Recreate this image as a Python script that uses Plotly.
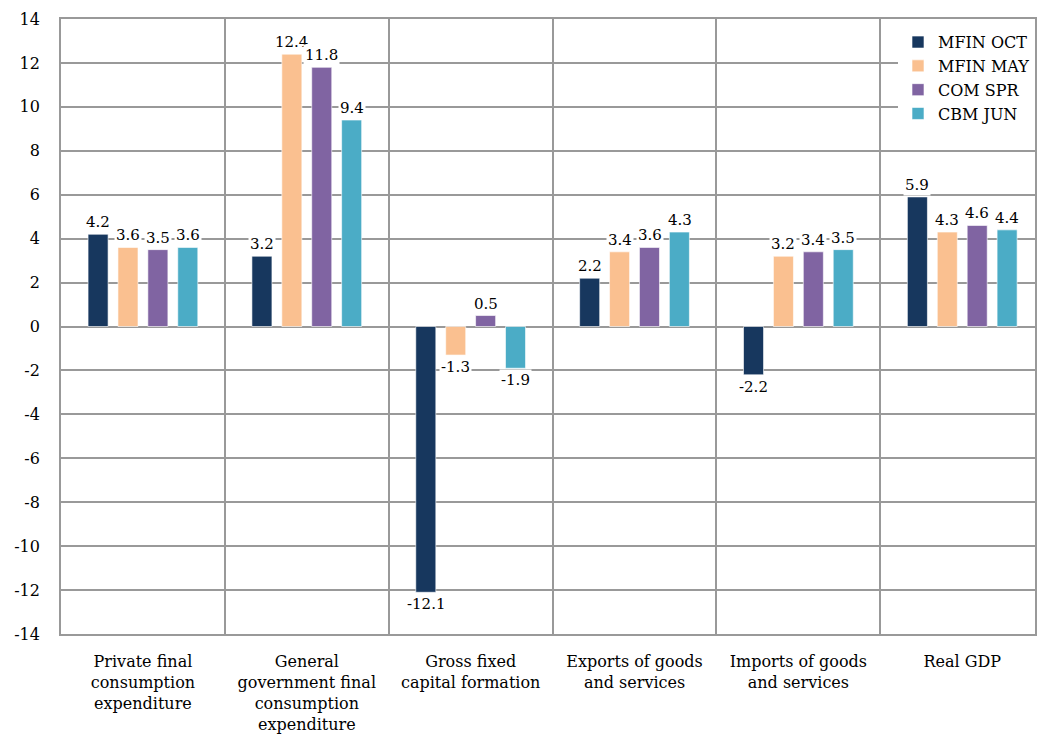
import plotly.graph_objects as go

categories = [
    "Private final<br>consumption<br>expenditure",
    "General<br>government final<br>consumption<br>expenditure",
    "Gross fixed<br>capital formation",
    "Exports of goods<br>and services",
    "Imports of goods<br>and services",
    "Real GDP",
]
series_names = ["MFIN OCT", "MFIN MAY", "COM SPR", "CBM JUN"]
mfin_oct = [4.2, 3.2, -12.1, 2.2, -2.2, 5.9]
mfin_may = [3.6, 12.4, -1.3, 3.4, 3.2, 4.3]
com_spr = [3.5, 11.8, 0.5, 3.6, 3.4, 4.6]
cbm_jun = [3.6, 9.4, -1.9, 4.3, 3.5, 4.4]
colors = ["#17375E", "#FAC090", "#8064A2", "#4BACC6"]
y_ticks = list(range(-14, 15, 2))

all_series = [mfin_oct, mfin_may, com_spr, cbm_jun]
FONT = "DejaVu Serif"

fig = go.Figure()
for name, vals, col in zip(series_names, all_series, colors):
    fig.add_trace(go.Bar(
        x=categories, y=vals, name=name,
        marker=dict(color=col, line=dict(color="rgba(255,255,255,0.6)", width=1)),
    ))

offsets = [-45, -15, 15, 45]
for off, vals in zip(offsets, all_series):
    for cat, v in zip(categories, vals):
        fig.add_annotation(
            x=cat, y=v, xref="x", yref="y", text=f"{v:.1f}", showarrow=False,
            xshift=off, yshift=(1 if v >= 0 else -1),
            yanchor=("bottom" if v >= 0 else "top"),
            bgcolor="white", borderpad=1,
            font=dict(family=FONT, size=15, color="black"),
        )

fig.update_layout(
    width=1037, height=751,
    margin=dict(l=61, r=0, t=19, b=117),
    paper_bgcolor="white", plot_bgcolor="white",
    barmode="group", bargap=0.27, bargroupgap=0.33,
    font=dict(family=FONT, size=16, color="black"),
    legend=dict(
        x=1, xanchor="right", y=0.99, yanchor="top",
        bgcolor="white", borderwidth=0,
        font=dict(family=FONT, size=16, color="black"),
        itemwidth=30, tracegroupgap=10,
    ),
    showlegend=True,
)
fig.update_xaxes(
    type="category", range=[-0.5, 5.444],
    tickson="boundaries", showgrid=True, gridcolor="#999999", gridwidth=1.8,
    showline=True, linecolor="#999999", linewidth=1.8, mirror=True,
    ticks="", tickfont=dict(family=FONT, size=16),
    ticklabelstandoff=12,
)
fig.update_yaxes(
    range=[-14, 14], tickvals=y_ticks, ticktext=[str(t) for t in y_ticks],
    showgrid=True, gridcolor="#999999", gridwidth=1.8,
    zeroline=True, zerolinecolor="#999999", zerolinewidth=1.8,
    showline=True, linecolor="#999999", linewidth=1.8, mirror=True,
    ticks="", tickfont=dict(family=FONT, size=16),
    ticklabelstandoff=16,
)

fig.write_html("out.html")
